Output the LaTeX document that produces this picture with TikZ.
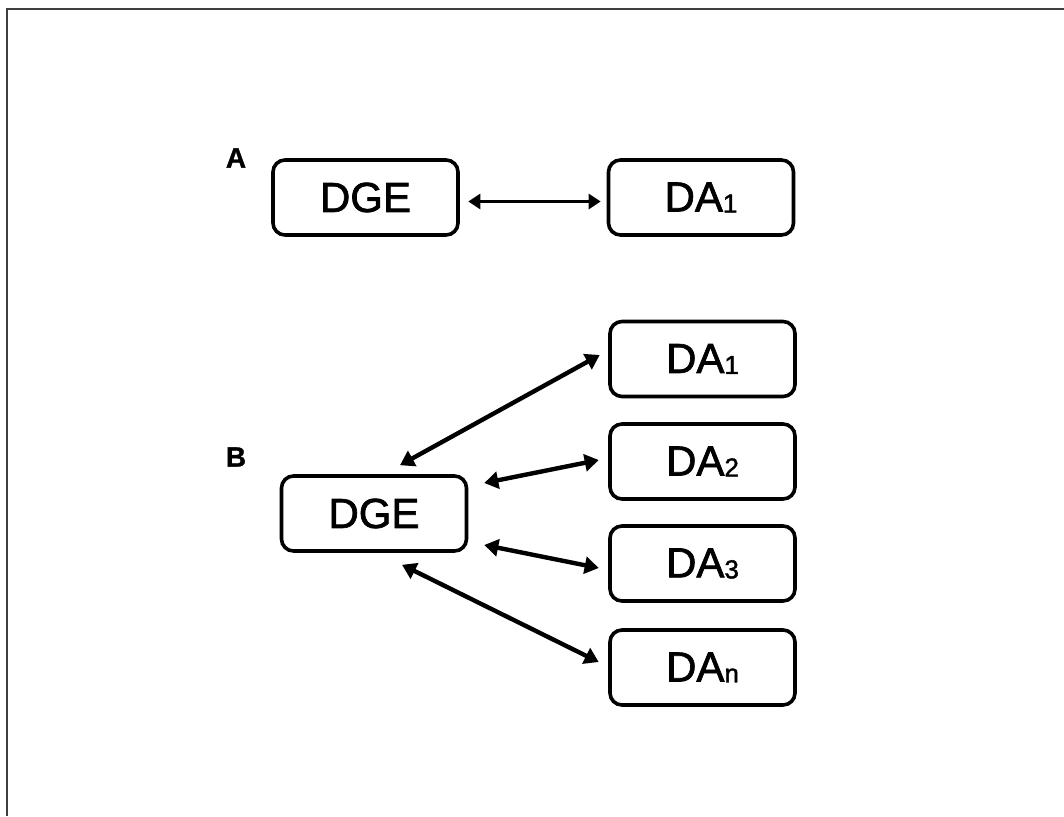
\documentclass[tikz,border=0pt]{standalone}
\usepackage{fontspec}
\setmainfont{Liberation Sans}
\newfontface\boxfont{Liberation Sans}[FakeBold=1.6]
\newfontface\lblfont{Liberation Sans Bold}[FakeBold=1]
\usetikzlibrary{arrows.meta}
\tikzset{
  box/.style={draw=black, line width=3.6pt, rounded corners=12pt, minimum width=185pt, minimum height=75pt, inner sep=0pt, font=\fontsize{42}{50}\boxfont, text=black},
  lbl/.style={font=\fontsize{28}{32}\lblfont, inner sep=0pt},
  biarrow/.style={line width=4.4pt, {Triangle[length=14pt,width=17pt]}-{Triangle[length=14pt,width=17pt]}},
  biarrowA/.style={line width=3pt, {Triangle[length=12pt,width=15pt]}-{Triangle[length=12pt,width=15pt]}},
  frame/.style={draw=black!75, line width=2pt}
}
\newcommand{\sub}[1]{\raisebox{-1pt}{\fontsize{26}{30}\boxfont #1}}
\begin{document}
\begin{tikzpicture}[x=1pt,y=-1pt]
\useasboundingbox (0,0) rectangle (1064,816);
\fill[white] (0,0) rectangle (1064,816);
\draw[frame] (7,816) -- (7,9) -- (1064,9);

% Part A
\node[lbl] (la) at (236,158) {A};
\node[box] (dgea) at (365.5,197.5) {DGE};
\node[box] (daa) at (701,197.5) {DA\sub{1}};
\draw[biarrowA] ([xshift=8.5pt,yshift=-4pt]dgea.east) -- ([xshift=-6pt,yshift=-4pt]daa.west);

% Part B
\node[lbl] (lb) at (236,457) {B};
\node[box] (dgeb) at (374,513.5) {DGE};
\node[box] (db1) at (702.5,359) {DA\sub{1}};
\node[box] (db2) at (702.5,461.5) {DA\sub{2}};
\node[box] (db3) at (702.5,563.5) {DA\sub{3}};
\node[box] (dbn) at (702.5,667.5) {DA\sub{n}};

\draw[biarrow] ([xshift=26pt,yshift=9pt]dgeb.north) -- ([xshift=-8.5pt,yshift=4pt]db1.west);
\draw[biarrow] ([xshift=16pt,yshift=30.5pt]dgeb.east) -- ([xshift=-9.5pt,yshift=1.5pt]db2.west);
\draw[biarrow] ([xshift=16pt,yshift=-31.5pt]dgeb.east) -- ([xshift=-9.5pt,yshift=-4.5pt]db3.west);
\draw[biarrow] ([xshift=28pt,yshift=-12pt]dgeb.south) -- ([xshift=-9.5pt,yshift=5.5pt]dbn.west);
\end{tikzpicture}
\end{document}
